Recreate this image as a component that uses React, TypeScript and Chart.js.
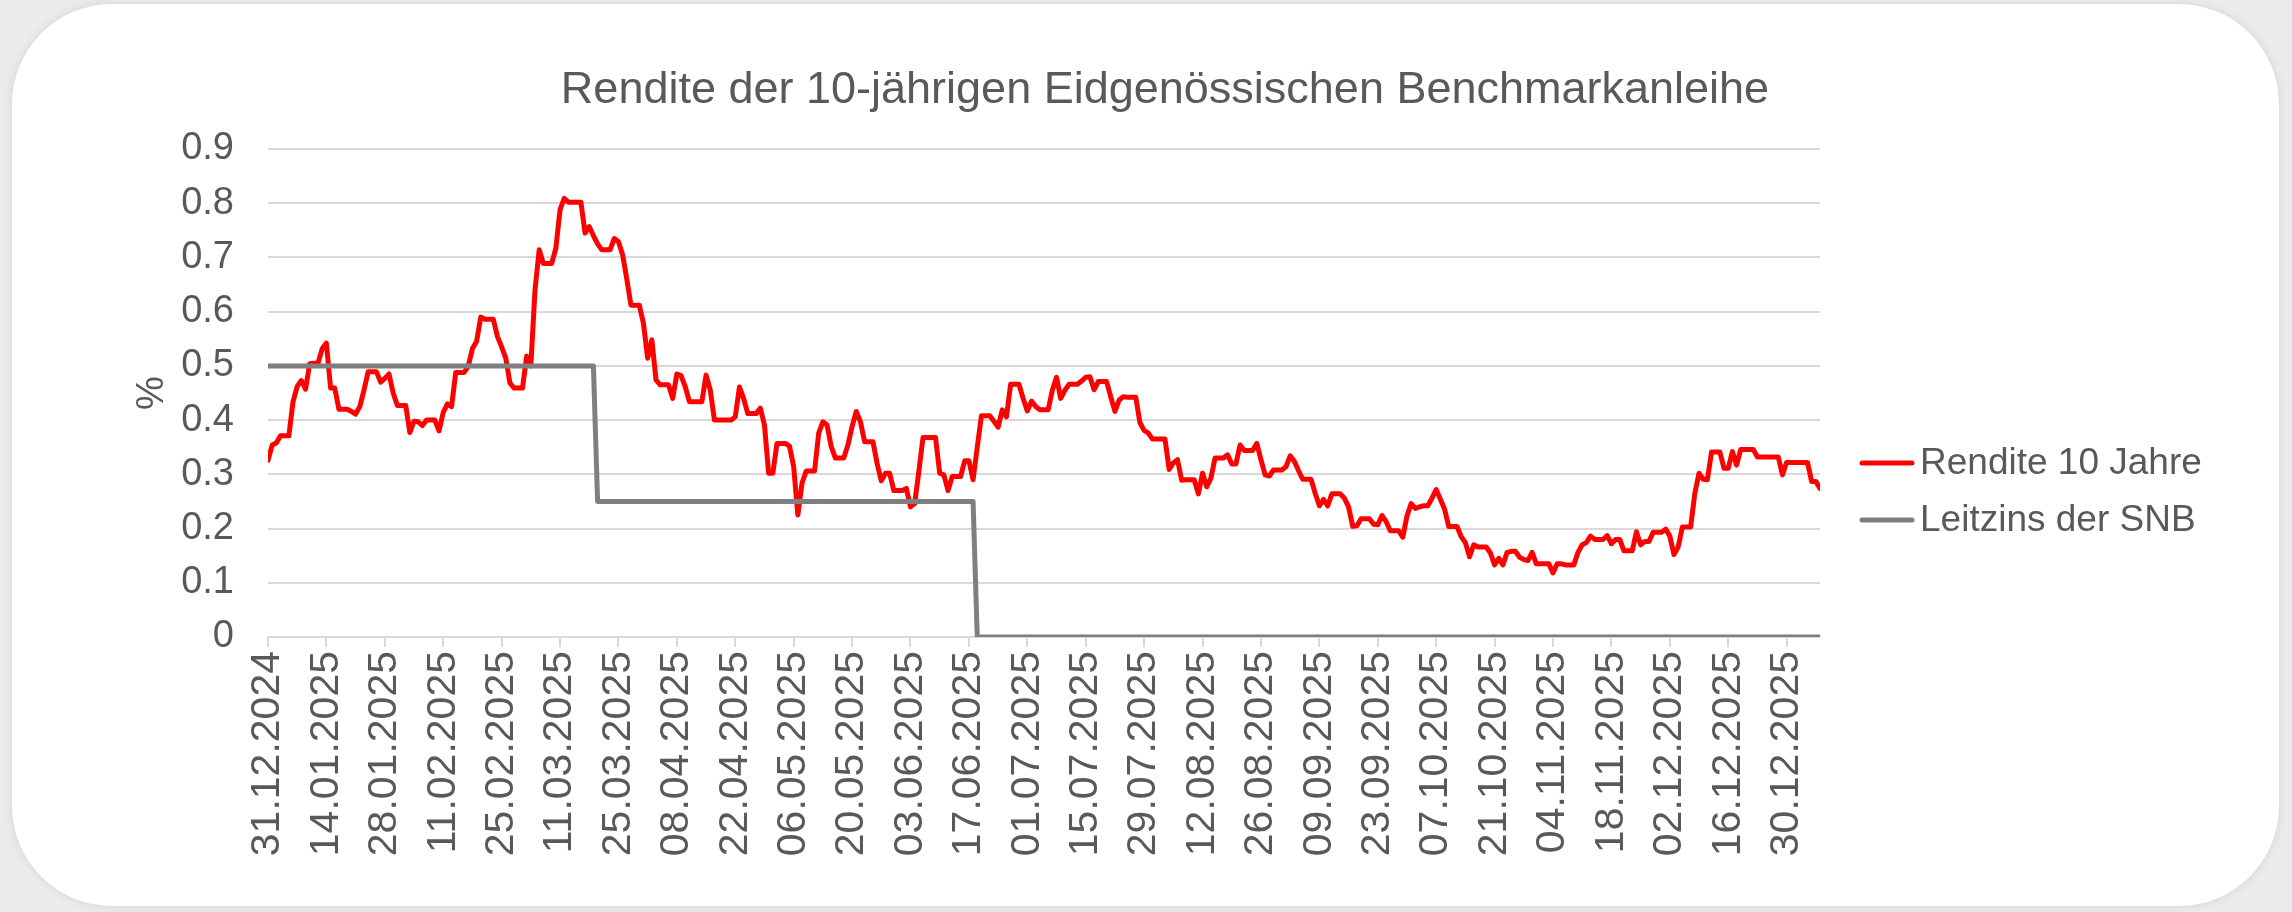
import React, { useEffect, useRef } from 'react';
import { Chart, registerables } from 'chart.js';

Chart.register(...registerables);

const FONT = '"Liberation Sans", Arial, Helvetica, sans-serif';
const TEXT_COLOR = '#595959';
const TITLE = 'Rendite der 10-jährigen Eidgenössischen Benchmarkanleihe';

// x-axis labels, one every 14 days starting 31.12.2024
const tickLabels = [
  '31.12.2024', '14.01.2025', '28.01.2025', '11.02.2025', '25.02.2025', '11.03.2025',
  '25.03.2025', '08.04.2025', '22.04.2025', '06.05.2025', '20.05.2025', '03.06.2025',
  '17.06.2025', '01.07.2025', '15.07.2025', '29.07.2025', '12.08.2025', '26.08.2025',
  '09.09.2025', '23.09.2025', '07.10.2025', '21.10.2025', '04.11.2025', '18.11.2025',
  '02.12.2025', '16.12.2025', '30.12.2025',
];
const TICK_STEP_DAYS = 14;

// Daily 10y yield (%), day 0 = 31.12.2024 (weekends carry the previous value)
const yields = [
  0.326, 0.354, 0.358, 0.371, 0.371, 0.371, 0.434, 0.462, 0.473, 0.457,
  0.504, 0.505, 0.505, 0.532, 0.542, 0.459, 0.459, 0.420, 0.420, 0.420,
  0.416, 0.411, 0.425, 0.455, 0.489, 0.489, 0.489, 0.470, 0.477, 0.485,
  0.450, 0.427, 0.427, 0.427, 0.377, 0.398, 0.397, 0.390, 0.400, 0.400,
  0.400, 0.380, 0.414, 0.430, 0.425, 0.488, 0.488, 0.488, 0.499, 0.532,
  0.545, 0.590, 0.586, 0.586, 0.586, 0.554, 0.535, 0.514, 0.468, 0.459,
  0.459, 0.459, 0.518, 0.500, 0.640, 0.714, 0.689, 0.689, 0.689, 0.717,
  0.788, 0.809, 0.802, 0.802, 0.802, 0.802, 0.745, 0.757, 0.740, 0.725,
  0.714, 0.714, 0.714, 0.735, 0.729, 0.705, 0.660, 0.612, 0.612, 0.612,
  0.578, 0.514, 0.548, 0.474, 0.465, 0.465, 0.465, 0.440, 0.485, 0.482,
  0.462, 0.434, 0.434, 0.434, 0.434, 0.483, 0.456, 0.400, 0.400, 0.400,
  0.400, 0.400, 0.406, 0.461, 0.440, 0.412, 0.412, 0.412, 0.422, 0.391,
  0.302, 0.302, 0.357, 0.357, 0.357, 0.352, 0.314, 0.225, 0.284, 0.306,
  0.306, 0.306, 0.376, 0.397, 0.391, 0.351, 0.330, 0.330, 0.330, 0.354,
  0.388, 0.416, 0.397, 0.360, 0.360, 0.360, 0.320, 0.288, 0.302, 0.302,
  0.270, 0.270, 0.270, 0.274, 0.240, 0.246, 0.305, 0.368, 0.368, 0.368,
  0.368, 0.302, 0.299, 0.270, 0.296, 0.296, 0.296, 0.325, 0.325, 0.290,
  0.350, 0.408, 0.408, 0.408, 0.398, 0.387, 0.419, 0.406, 0.466, 0.466,
  0.466, 0.440, 0.417, 0.435, 0.425, 0.419, 0.419, 0.419, 0.455, 0.479,
  0.440, 0.455, 0.466, 0.466, 0.466, 0.472, 0.479, 0.480, 0.456, 0.471,
  0.471, 0.471, 0.443, 0.416, 0.437, 0.443, 0.442, 0.442, 0.442, 0.395,
  0.381, 0.376, 0.365, 0.365, 0.365, 0.365, 0.309, 0.321, 0.327, 0.289,
  0.290, 0.290, 0.290, 0.264, 0.302, 0.277, 0.293, 0.330, 0.330, 0.330,
  0.336, 0.319, 0.319, 0.354, 0.344, 0.344, 0.344, 0.357, 0.327, 0.299,
  0.297, 0.308, 0.308, 0.308, 0.314, 0.334, 0.324, 0.307, 0.291, 0.291,
  0.291, 0.265, 0.242, 0.254, 0.242, 0.264, 0.264, 0.264, 0.256, 0.240,
  0.204, 0.205, 0.218, 0.218, 0.218, 0.208, 0.207, 0.224, 0.213, 0.196,
  0.196, 0.196, 0.184, 0.223, 0.246, 0.237, 0.240, 0.242, 0.242, 0.256,
  0.272, 0.254, 0.236, 0.204, 0.204, 0.204, 0.185, 0.174, 0.148, 0.170,
  0.166, 0.166, 0.166, 0.155, 0.133, 0.145, 0.133, 0.156, 0.158, 0.158,
  0.147, 0.143, 0.141, 0.156, 0.135, 0.135, 0.135, 0.135, 0.118, 0.135,
  0.135, 0.133, 0.133, 0.133, 0.156, 0.170, 0.174, 0.186, 0.180, 0.180,
  0.180, 0.187, 0.172, 0.180, 0.180, 0.159, 0.159, 0.159, 0.194, 0.170,
  0.176, 0.176, 0.193, 0.193, 0.193, 0.199, 0.186, 0.152, 0.166, 0.203,
  0.203, 0.203, 0.265, 0.302, 0.291, 0.290, 0.341, 0.341, 0.341, 0.311,
  0.311, 0.342, 0.317, 0.346, 0.346, 0.346, 0.346, 0.332, 0.332, 0.332,
  0.332, 0.332, 0.332, 0.299, 0.322, 0.322, 0.322, 0.322, 0.322, 0.322,
  0.287, 0.287, 0.274,
];

// SNB policy rate: day index from which each level applies (20.03.2025, 19.06.2025)
const rateChangeDay = [0, 79, 170];
const rateLevel = [0.5, 0.25, 0];

const yTicks = [0, 0.1, 0.2, 0.3, 0.4, 0.5, 0.6, 0.7, 0.8, 0.9];

function rateOnDay(day: number): number {
  let v = rateLevel[0];
  for (let k = 0; k < rateChangeDay.length; k++) {
    if (day >= rateChangeDay[k]) v = rateLevel[k];
  }
  return v;
}

const overlayPlugin = {
  id: 'overlayTexts',
  afterDraw(chart: any) {
    const ctx = chart.ctx as CanvasRenderingContext2D;
    ctx.save();
    // Title
    ctx.fillStyle = TEXT_COLOR;
    ctx.font = `45px ${FONT}`;
    ctx.textAlign = 'center';
    ctx.textBaseline = 'middle';
    ctx.fillText(TITLE, 1165, 91);
    // Legend
    const rows = [463, 520];
    chart.data.datasets.forEach((ds: any, i: number) => {
      const y = rows[i];
      ctx.strokeStyle = ds.borderColor;
      ctx.lineWidth = ds.borderWidth;
      ctx.lineCap = 'round';
      ctx.beginPath();
      ctx.moveTo(1862, y);
      ctx.lineTo(1912, y);
      ctx.stroke();
      ctx.fillStyle = TEXT_COLOR;
      ctx.font = `37px ${FONT}`;
      ctx.textAlign = 'left';
      ctx.textBaseline = 'middle';
      ctx.fillText(ds.label, 1920, y + 1);
    });
    ctx.restore();
  },
};

function YieldChart() {
  const ref = useRef<HTMLCanvasElement | null>(null);

  useEffect(() => {
    if (!ref.current) return;
    const chart = new Chart(ref.current, {
      type: 'line',
      data: {
        datasets: [
          {
            label: 'Rendite 10 Jahre',
            data: yields.map((v, i) => ({ x: i, y: v })),
            borderColor: '#ff0000',
            backgroundColor: '#ff0000',
            borderWidth: 5,
            pointRadius: 0,
            tension: 0,
            borderJoinStyle: 'round',
            borderCapStyle: 'round',
            order: 1,
          },
          {
            label: 'Leitzins der SNB',
            data: yields.map((_, i) => ({ x: i, y: rateOnDay(i) })),
            borderColor: '#7f7f7f',
            backgroundColor: '#7f7f7f',
            borderWidth: 5,
            pointRadius: 0,
            tension: 0,
            borderJoinStyle: 'round',
            borderCapStyle: 'round',
            order: 0,
          },
        ],
      },
      options: {
        responsive: false,
        animation: false,
        devicePixelRatio: 1,
        layout: { padding: { left: 110, right: 472, top: 149, bottom: 35 } },
        plugins: {
          legend: { display: false },
          title: { display: false },
          tooltip: { enabled: false },
        },
        scales: {
          x: {
            type: 'linear',
            min: 0,
            max: yields.length - 1,
            afterBuildTicks: (axis: any) => {
              axis.ticks = tickLabels.map((_, k) => ({ value: k * TICK_STEP_DAYS }));
            },
            afterFit: (axis: any) => {
              axis.height = 240;
            },
            grid: {
              drawOnChartArea: false,
              drawTicks: true,
              tickLength: 10,
              color: '#d9d9d9',
              lineWidth: 2,
            },
            border: { display: true, color: '#d9d9d9', width: 2 },
            ticks: {
              autoSkip: false,
              maxRotation: 90,
              minRotation: 90,
              padding: 4,
              color: TEXT_COLOR,
              font: { size: 41, family: FONT },
              callback: (v: any) => tickLabels[Math.round(Number(v) / TICK_STEP_DAYS)] ?? '',
            },
          },
          y: {
            min: 0,
            max: 0.9,
            afterBuildTicks: (axis: any) => {
              axis.ticks = yTicks.map((v) => ({ value: v }));
            },
            afterFit: (axis: any) => {
              axis.width = 158;
            },
            grid: { color: '#d9d9d9', lineWidth: 2, drawTicks: false },
            border: { display: false },
            ticks: {
              padding: 34,
              color: TEXT_COLOR,
              font: { size: 38, family: FONT },
              callback: (v: any) => String(Number(Number(v).toFixed(1))),
            },
            title: {
              display: true,
              text: '%',
              color: TEXT_COLOR,
              font: { size: 38, family: FONT },
              padding: { top: 20, bottom: 0 },
            },
          },
        },
      },
      plugins: [overlayPlugin],
    } as any);
    return () => chart.destroy();
  }, []);

  return (
    <canvas
      ref={ref}
      width={2292}
      height={912}
      style={{ position: 'absolute', left: 0, top: 0, width: 2292, height: 912 }}
    />
  );
}

export default function App() {
  return (
    <div
      style={{
        position: 'fixed',
        left: 0,
        top: 0,
        width: 2292,
        height: 912,
        background: '#ebebeb',
        overflow: 'hidden',
        fontFamily: FONT,
      }}
    >
      <div
        style={{
          position: 'absolute',
          left: 12,
          top: 4,
          width: 2267,
          height: 902,
          background: '#ffffff',
          borderRadius: 100,
          boxShadow: '0 0 10px rgba(0,0,0,0.10)',
        }}
      />
      <YieldChart />
    </div>
  );
}
